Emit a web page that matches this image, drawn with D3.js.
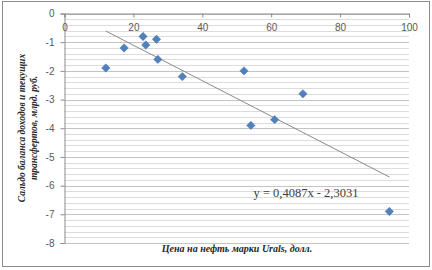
<!DOCTYPE html>
<html>
<head>
<meta charset="utf-8">
<script src="https://cdn.jsdelivr.net/npm/d3@7"></script>
<style>
  body { margin: 0; background: #fff; }
  svg { display: block; }
</style>
</head>
<body>
<div id="container"></div>
<script>
// oil price (x) vs balance (y)
let priceX = [12, 17.3, 22.8, 23.6, 26.7, 27.1, 34.2, 52.1, 54.1, 61, 69.2, 94.3]
let balanceY = [-1.9, -1.2, -0.8, -1.1, -0.9, -1.6, -2.2, -2.0, -3.9, -3.7, -2.8, -6.9]
let xTicks = [0, 20, 40, 60, 80, 100]
let yTicks = [0, -1, -2, -3, -4, -5, -6, -7, -8]
let trendLabel = 'y = 0,4087x - 2,3031'
let xTitle = 'Цена на нефть марки Urals, долл.'
let yTitle = ['Сальдо баланса доходов и текущих', 'трансфертов, млрд. руб.']

let width = 432
let height = 270
let plot = {left: 64.5, right: 409, top: 13.5, bottom: 243}

let svg

function main() {
    createSVG()
    let data = priceX.map((x, i) => ({x: x, y: balanceY[i]}))
    build(data)
}

function createSVG() {
    svg = d3.select('#container').append('svg')
      .attr('width', width)
      .attr('height', height)

    svg.append('rect')
      .attr('x', 2.5).attr('y', 1.5)
      .attr('width', 427).attr('height', 265)
      .attr('fill', '#fff')
      .attr('stroke', '#8c8c8c')
      .attr('stroke-width', 1)
}

function build(data) {
    const xScale = d3.scaleLinear()
      .domain([0, 100])
      .range([plot.left, plot.right])

    const yScale = d3.scaleLinear()
      .domain([-8, 0])
      .range([plot.bottom, plot.top])

    // minor gridlines every 0.2
    let minor = d3.range(-8, 0.001, 0.2).map(v => Math.round(v * 10) / 10)
    svg.append('g').selectAll('line')
      .data(minor)
      .enter()
      .append('line')
      .attr('x1', plot.left).attr('x2', plot.right)
      .attr('y1', d => Math.round(yScale(d)) + 0.5)
      .attr('y2', d => Math.round(yScale(d)) + 0.5)
      .attr('stroke', d => Number.isInteger(d) ? '#c4c4c4' : '#dcdcdc')
      .attr('stroke-width', 1)

    const yAxis = d3.axisLeft(yScale)
      .tickValues(yTicks)
      .tickSize(4)
      .tickFormat(d => d === 0 ? '0' : '-' + Math.abs(d))

    let gy = svg.append('g')
      .attr('transform', `translate(${plot.left},0)`)
      .call(yAxis)
    gy.select('.domain').attr('stroke', '#8c8c8c')
    gy.selectAll('.tick line').attr('stroke', '#8c8c8c')
    gy.selectAll('.tick text')
      .attr('x', -10)
      .attr('fill', '#595959')
      .style('font-family', 'Liberation Sans, Arial, sans-serif')
      .style('font-size', '10px')

    const xAxis = d3.axisBottom(xScale)
      .tickValues(xTicks)
      .tickSize(4)

    let gx = svg.append('g')
      .attr('transform', `translate(0,${yScale(0)})`)
      .call(xAxis)
    gx.select('.domain').attr('stroke', '#8c8c8c')
    gx.selectAll('.tick line').attr('stroke', '#8c8c8c')
    gx.selectAll('.tick text')
      .attr('y', 10)
      .attr('fill', '#595959')
      .style('font-family', 'Liberation Sans, Arial, sans-serif')
      .style('font-size', '10px')

    // least squares trend line
    let mx = d3.mean(data, d => d.x)
    let my = d3.mean(data, d => d.y)
    let slope = d3.sum(data, d => (d.x - mx) * (d.y - my)) / d3.sum(data, d => (d.x - mx) * (d.x - mx))
    let icept = my - slope * mx
    let ends = d3.extent(data, d => d.x)

    svg.append('line')
      .attr('x1', xScale(ends[0])).attr('y1', yScale(icept + slope * ends[0]))
      .attr('x2', xScale(ends[1])).attr('y2', yScale(icept + slope * ends[1]))
      .attr('stroke', '#8a8a8a')
      .attr('stroke-width', 1)

    svg.selectAll('path.pt')
      .data(data)
      .enter()
      .append('path')
      .attr('class', 'pt')
      .attr('d', 'M0,-4.2L4.2,0L0,4.2L-4.2,0Z')
      .attr('transform', d => `translate(${xScale(d.x)},${yScale(d.y)})`)
      .attr('fill', '#4f81bd')
      .attr('stroke', '#4a76ad')
      .attr('stroke-width', 0.5)

    svg.append('text')
      .attr('x', 306).attr('y', 197)
      .attr('text-anchor', 'middle')
      .attr('fill', '#404040')
      .style('font-family', 'Liberation Serif, Times New Roman, serif')
      .style('font-size', '12.5px')
      .text(trendLabel)

    svg.append('text')
      .attr('x', 237).attr('y', 252)
      .attr('text-anchor', 'middle')
      .attr('fill', '#262626')
      .style('font-family', 'Liberation Serif, Times New Roman, serif')
      .style('font-size', '10px')
      .style('font-weight', 'bold')
      .style('font-style', 'italic')
      .text(xTitle)

    svg.append('g')
      .attr('transform', 'translate(25,128) rotate(-90)')
      .selectAll('text')
      .data(yTitle)
      .enter()
      .append('text')
      .attr('x', 0)
      .attr('y', (d, i) => i * 12)
      .attr('text-anchor', 'middle')
      .attr('fill', '#262626')
      .style('font-family', 'Liberation Serif, Times New Roman, serif')
      .style('font-size', '9.5px')
      .style('font-weight', 'bold')
      .style('font-style', 'italic')
      .text(d => d)
}

main()
</script>
</body>
</html>
